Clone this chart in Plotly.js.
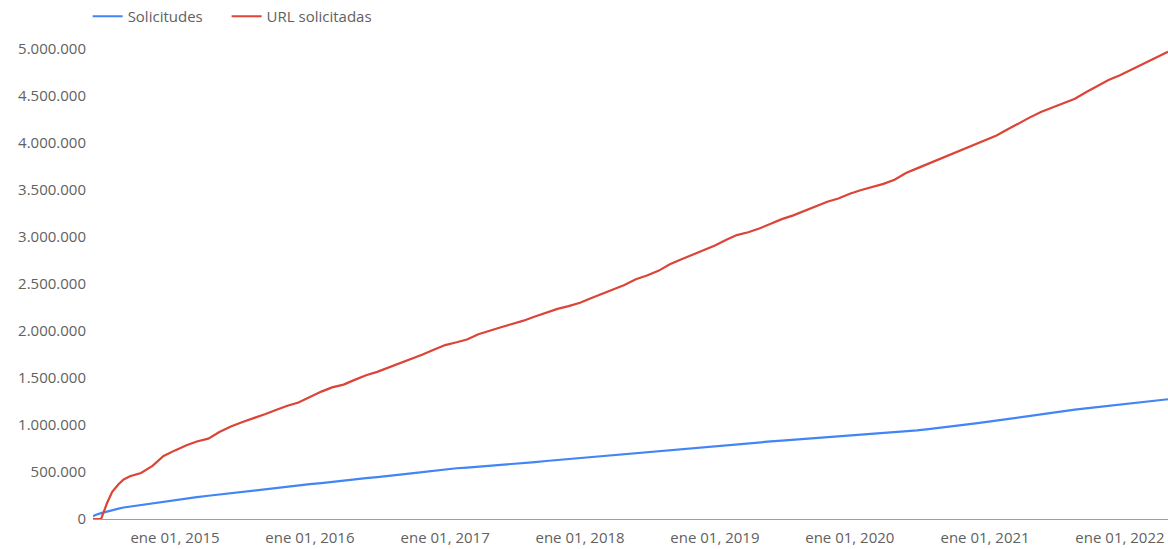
<!DOCTYPE html>
<html>
<head>
<meta charset="utf-8">
<script src="https://cdn.plot.ly/plotly-3.0.1.min.js"></script>
<style>html,body{margin:0;padding:0;background:#fff;}#chart{width:1168px;height:549px;}</style>
</head>
<body>
<div id="chart"></div>
<script>
const dates = [
  "2014-05-24","2014-06-01","2014-06-15","2014-07-01","2014-07-15","2014-08-01","2014-08-15","2014-09-01","2014-10-01","2014-11-01","2014-12-01",
  "2015-01-01","2015-02-01","2015-03-01","2015-04-01","2015-05-01","2015-06-01","2015-07-01","2015-08-01","2015-09-01","2015-10-01","2015-11-01","2015-12-01",
  "2016-01-01","2016-02-01","2016-03-01","2016-04-01","2016-05-01","2016-06-01","2016-07-01","2016-08-01","2016-09-01","2016-10-01","2016-11-01","2016-12-01",
  "2017-01-01","2017-02-01","2017-03-01","2017-04-01","2017-05-01","2017-06-01","2017-07-01","2017-08-01","2017-09-01","2017-10-01","2017-11-01","2017-12-01",
  "2018-01-01","2018-02-01","2018-03-01","2018-04-01","2018-05-01","2018-06-01","2018-07-01","2018-08-01","2018-09-01","2018-10-01","2018-11-01","2018-12-01",
  "2019-01-01","2019-02-01","2019-03-01","2019-04-01","2019-05-01","2019-06-01","2019-07-01","2019-08-01","2019-09-01","2019-10-01","2019-11-01","2019-12-01",
  "2020-01-01","2020-02-01","2020-03-01","2020-04-01","2020-05-01","2020-06-01","2020-07-01","2020-08-01","2020-09-01","2020-10-01","2020-11-01","2020-12-01",
  "2021-01-01","2021-02-01","2021-03-01","2021-04-01","2021-05-01","2021-06-01","2021-07-01","2021-08-01","2021-09-01","2021-10-01","2021-11-01","2021-12-01",
  "2022-01-01","2022-02-01","2022-03-01","2022-04-01","2022-05-01","2022-05-11"
];

const solicitudes = [
  28000,45000,62000,80000,95000,110000,122000,132000,148000,165000,183000,
  200000,218000,232000,247000,261000,276000,290000,304000,318000,333000,348000,359000,
  371000,382000,396000,410000,424000,434000,445000,456000,472000,486000,500000,514000,
  529000,540000,547000,556000,564000,574000,584000,596000,606000,617000,628000,639000,
  650000,660000,669000,681000,691000,701000,712000,723000,733000,744000,755000,766000,
  777000,789000,798000,808000,816000,825000,834000,843000,852000,862000,872000,882000,
  893000,902000,909000,915000,922000,930000,943000,957000,970000,985000,1000000,1015000,
  1030000,1048000,1063000,1080000,1096000,1115000,1132000,1148000,1164000,1177000,1190000,1204000,
  1218000,1232000,1243000,1256000,1269000,1274000
];

const urlSolicitadas = [
  0,0,0,170000,290000,370000,420000,455000,490000,565000,670000,
  730000,785000,825000,855000,925000,985000,1030000,1070000,1115000,1160000,1205000,1240000,
  1300000,1355000,1400000,1430000,1480000,1530000,1565000,1610000,1656000,1705000,1750000,1800000,
  1850000,1880000,1910000,1965000,2005000,2040000,2075000,2110000,2155000,2195000,2235000,2265000,
  2300000,2350000,2395000,2445000,2490000,2550000,2590000,2640000,2710000,2760000,2810000,2860000,
  2910000,2970000,3020000,3050000,3090000,3140000,3190000,3230000,3280000,3330000,3375000,3410000,
  3460000,3500000,3530000,3565000,3610000,3680000,3730000,3780000,3830000,3875000,3925000,3975000,
  4030000,4080000,4140000,4210000,4270000,4330000,4375000,4420000,4470000,4540000,4610000,4670000,
  4720000,4780000,4840000,4900000,4950000,4970000
];

const tickDates = ["2015-01-01","2016-01-01","2017-01-01","2018-01-01","2019-01-01","2020-01-01","2021-01-01","2022-01-01"];
const tickLabels = ["ene 01, 2015","ene 01, 2016","ene 01, 2017","ene 01, 2018","ene 01, 2019","ene 01, 2020","ene 01, 2021","ene 01, 2022"];
const yTicks = [0,500000,1000000,1500000,2000000,2500000,3000000,3500000,4000000,4500000,5000000];

const traces = [
  {x: dates, y: solicitudes, name: "Solicitudes", type: "scatter", mode: "lines",
   line: {color: "#4285f4", width: 2.2}, legend: "legend"},
  {x: dates, y: urlSolicitadas, name: "URL solicitadas", type: "scatter", mode: "lines",
   line: {color: "#db4437", width: 2.2}, legend: "legend2"}
];

const font = {family: "Open Sans, sans-serif", size: 15, color: "#616161"};

const legendBase = {orientation: "h", xanchor: "left", y: 1.035, yanchor: "bottom",
                    font: font, bgcolor: "rgba(0,0,0,0)"};

const layout = {
  width: 1168, height: 549,
  margin: {l: 93, r: 0, t: 48, b: 30},
  paper_bgcolor: "#fff", plot_bgcolor: "#fff",
  separators: ",.",
  font: font,
  showlegend: true,
  legend: Object.assign({}, legendBase, {x: -0.005}),
  legend2: Object.assign({}, legendBase, {x: 0.1243}),
  xaxis: {type: "date", range: [dates[0], dates[dates.length - 1]],
          tickvals: tickDates, ticktext: tickLabels, showgrid: false, zeroline: false,
          showline: true, linecolor: "#9e9e9e", linewidth: 1, ticks: "", tickfont: font,
          ticklabelstandoff: 5},
  yaxis: {range: [0, 5000000], tickvals: yTicks, tickformat: ",d", showgrid: false,
          zeroline: false, showline: false, ticks: "", tickfont: font, ticklabelstandoff: 6}
};

Plotly.newPlot("chart", traces, layout, {displayModeBar: false, staticPlot: true});
</script>
</body>
</html>
